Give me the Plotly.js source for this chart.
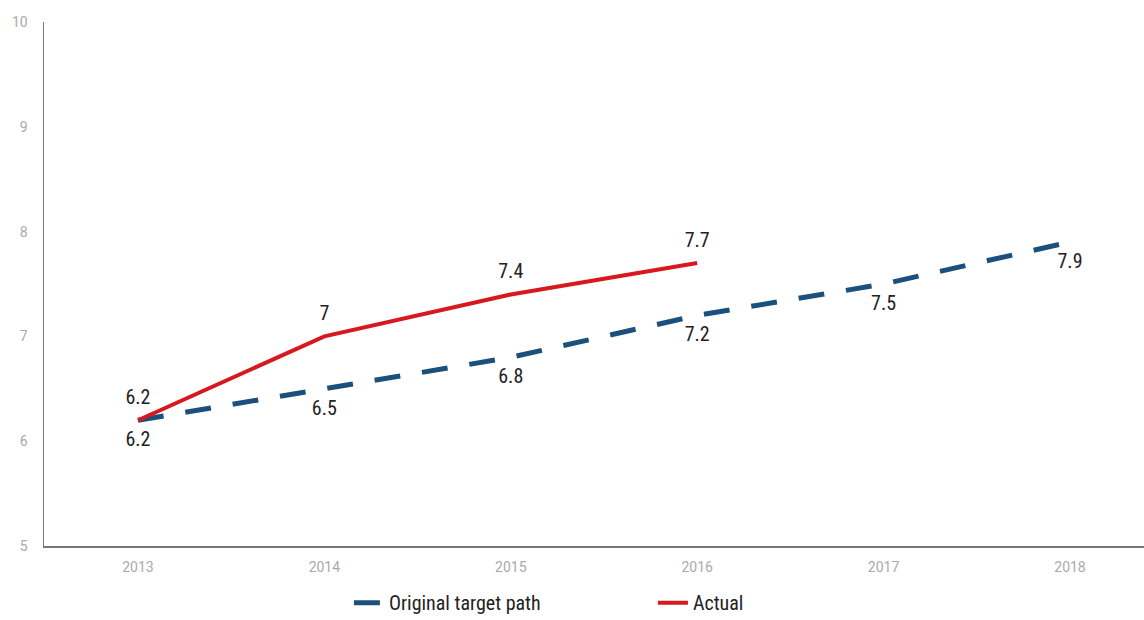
<!DOCTYPE html>
<html><head><meta charset="utf-8">
<script src="https://cdn.plot.ly/plotly-3.0.1.min.js"></script>
<style>html,body{margin:0;padding:0;background:#fff}#chart{width:1144px;height:620px}</style>
</head><body><div id="chart"></div>
<script>
const years = ['2013','2014','2015','2016','2017','2018'];
const targetValues = [6.2, 6.5, 6.8, 7.2, 7.5, 7.9];
const actualYears = ['2013','2014','2015','2016'];
const actualValues = [6.2, 7.0, 7.4, 7.7];
const yTicks = [5,6,7,8,9,10];

const condensed = '"Liberation Sans Narrow", "Roboto Condensed", Roboto, sans-serif';
const labelFont = {family: condensed, size: 20, color: '#222'};
const traces = [
  {x: years.map((y,i)=>i), y: targetValues, name: 'Original target path', mode: 'lines+markers+text',
   text: targetValues.map(v=>String(v)), textposition: 'bottom center', textfont: labelFont,
   marker: {size: 16, color: 'rgba(0,0,0,0)', line: {width: 0}},
   line: {color: '#1b4f7c', width: 5, dash: '26px,22px'}, hoverinfo: 'skip'},
  {x: actualYears.map((y,i)=>i), y: actualValues, name: 'Actual', mode: 'lines+markers+text',
   text: actualValues.map(v=>String(v)), textposition: 'top center', textfont: labelFont,
   marker: {size: 16, color: 'rgba(0,0,0,0)', line: {width: 0}},
   line: {color: '#d7191f', width: 4}, hoverinfo: 'skip'}
];
const layout = {
  width: 1144, height: 620,
  margin: {l: 44, r: 0, t: 22, b: 74},
  paper_bgcolor: '#fff', plot_bgcolor: '#fff',
  font: {family: 'Roboto, sans-serif'},
  xaxis: {range: [-0.504, 5.397], tickvals: years.map((y,i)=>i), ticktext: years,
    showgrid: false, zeroline: false, showline: true, linecolor: '#777', linewidth: 1.5,
    ticks: 'outside', ticklen: 8, tickcolor: 'rgba(0,0,0,0)',
    tickfont: {size: 14, color: '#aaa'}},
  yaxis: {range: [5, 10], tickvals: yTicks, showgrid: false, zeroline: false,
    showline: true, linecolor: '#777', linewidth: 1.5,
    ticks: 'outside', ticklen: 12, tickcolor: 'rgba(0,0,0,0)',
    tickfont: {size: 14, color: '#aaa'}},
  showlegend: true,
  legend: {orientation: 'h', xref: 'container', yref: 'container', x: 0.305, xanchor: 'left',
    y: 0.028, yanchor: 'middle',
    font: {family: condensed, size: 20, color: '#222'}, entrywidth: 259, entrywidthmode: 'pixels',
    traceorder: 'normal'}
};
Plotly.newPlot('chart', traces, layout, {displayModeBar: false, staticPlot: true});
</script></body></html>
